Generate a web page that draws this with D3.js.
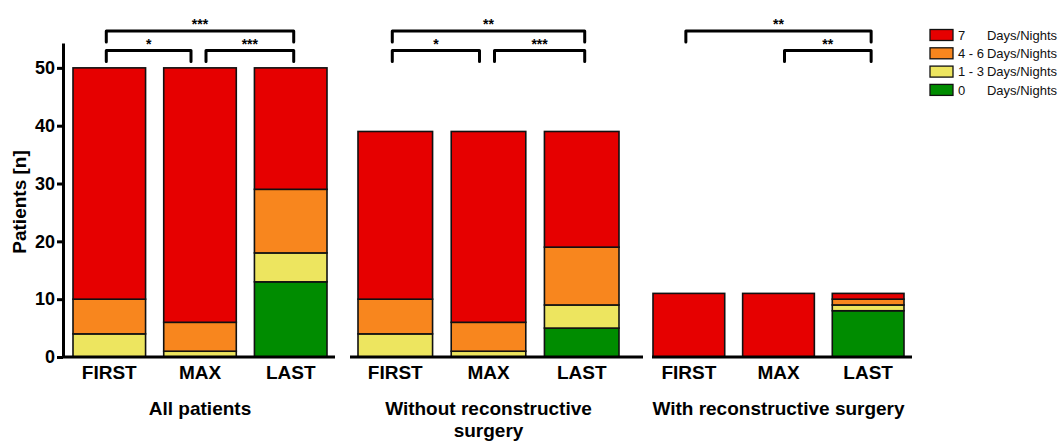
<!DOCTYPE html>
<html>
<head>
<meta charset="utf-8">
<script src="https://cdn.jsdelivr.net/npm/d3@7"></script>
<style>
  body { margin: 0; background: #fff; }
  svg { font-family: "Liberation Sans", Arial, sans-serif; }
</style>
</head>
<body>
<svg id="chart" width="1059" height="441"></svg>
<script>
// data
const groups = ['All patients', 'Without reconstructive surgery', 'With reconstructive surgery'];
const timepoints = ['FIRST', 'MAX', 'LAST'];
const yTicks = [0, 10, 20, 30, 40, 50];

// patients per group (rows) and timepoint (columns)
const days0 = [[0, 0, 13], [0, 0, 5], [0, 0, 8]];
const days1to3 = [[4, 1, 5], [4, 1, 4], [0, 0, 1]];
const days4to6 = [[6, 5, 11], [6, 5, 10], [0, 0, 1]];
const days7 = [[40, 44, 21], [29, 33, 20], [11, 11, 1]];

const seriesKeys = ['d0', 'd13', 'd46', 'd7'];
const seriesNumbers = ['0', '1 - 3', '4 - 6', '7'];
const seriesColors = ['#008c00', '#ede55f', '#f8861e', '#e60000'];

// significance brackets: group index, from, to, level, stars
const bracketGroup = [0, 0, 0, 1, 1, 1, 2, 2];
const bracketFrom = ['FIRST', 'FIRST', 'MAX', 'FIRST', 'FIRST', 'MAX', 'FIRST', 'MAX'];
const bracketTo = ['LAST', 'MAX', 'LAST', 'LAST', 'MAX', 'LAST', 'LAST', 'LAST'];
const bracketLevel = [1, 0, 0, 1, 0, 0, 1, 0];
const bracketStars = ['***', '*', '***', '**', '*', '***', '**', '**'];

const svg = d3.select('#chart');

const y = d3.scaleLinear().domain([0, 54.3]).range([357, 43]);

// horizontal extents of each panel
const axisExtent = [[63, 335], [350, 643], [652, 912]];
const barExtent = [[73, 327], [358, 619], [653, 904]];

const xScales = groups.map((g, i) => d3.scaleBand()
  .domain(timepoints)
  .range(barExtent[i])
  .paddingInner(0.2)
  .paddingOuter(0));

const stack = d3.stack().keys(seriesKeys);

groups.forEach((g, gi) => {
  const rows = timepoints.map((t, ti) => ({
    t: t,
    d0: days0[gi][ti],
    d13: days1to3[gi][ti],
    d46: days4to6[gi][ti],
    d7: days7[gi][ti]
  }));
  const layers = stack(rows);
  const x = xScales[gi];

  const panel = svg.append('g');

  panel.selectAll('g.layer')
    .data(layers)
    .join('g')
    .attr('class', 'layer')
    .attr('fill', (d, i) => seriesColors[i])
    .selectAll('rect')
    .data(d => d.filter(s => s[1] > s[0]))
    .join('rect')
    .attr('x', d => x(d.data.t))
    .attr('width', x.bandwidth())
    .attr('y', d => y(d[1]))
    .attr('height', d => y(d[0]) - y(d[1]))
    .attr('stroke', '#111')
    .attr('stroke-width', 1.6);

  // baseline of the panel
  panel.append('line')
    .attr('x1', axisExtent[gi][0])
    .attr('x2', axisExtent[gi][1])
    .attr('y1', y(0))
    .attr('y2', y(0))
    .attr('stroke', '#000')
    .attr('stroke-width', 3);

  panel.selectAll('text.cat')
    .data(timepoints)
    .join('text')
    .attr('class', 'cat')
    .attr('x', d => x(d) + x.bandwidth() / 2)
    .attr('y', 379)
    .attr('text-anchor', 'middle')
    .attr('font-size', 19)
    .attr('font-weight', 'bold')
    .text(d => d);

  // group title under the middle bar, wrapped like the original
  const cx = x('MAX') + x.bandwidth() / 2;
  const lines = gi === 1 ? ['Without reconstructive', 'surgery'] : [g];
  panel.append('text')
    .attr('x', cx)
    .attr('y', 415)
    .attr('text-anchor', 'middle')
    .attr('font-size', 19)
    .attr('font-weight', 'bold')
    .selectAll('tspan')
    .data(lines)
    .join('tspan')
    .attr('x', cx)
    .attr('dy', (d, i) => i === 0 ? 0 : 22)
    .text(d => d);
});

// brackets
const levelY = [50.5, 31];
bracketStars.forEach((s, i) => {
  const x = xScales[bracketGroup[i]];
  const c = t => x(t) + x.bandwidth() / 2;
  const lv = bracketLevel[i];
  let x1 = c(bracketFrom[i]) - 3;
  let x2 = c(bracketTo[i]) + 3;
  if (bracketFrom[i] === 'MAX') x1 = c('MAX') + 6;
  if (bracketTo[i] === 'MAX') x2 = c('MAX') - 9;
  const yy = levelY[lv];
  svg.append('path')
    .attr('d', `M${x1},${yy + 11}V${yy}H${x2}V${yy + 11}`)
    .attr('fill', 'none')
    .attr('stroke', '#000')
    .attr('stroke-width', 3)
    .attr('stroke-linecap', 'round')
    .attr('stroke-linejoin', 'round');
  svg.append('text')
    .attr('x', (x1 + x2) / 2)
    .attr('y', yy - 2)
    .attr('text-anchor', 'middle')
    .attr('font-size', 14)
    .attr('font-weight', 'bold')
    .text(s);
});

// y axis
const yAxis = svg.append('g')
  .attr('transform', 'translate(63,0)')
  .call(d3.axisLeft(y).tickValues(yTicks).tickSize(6).tickSizeOuter(0).tickPadding(2));
yAxis.select('.domain').attr('stroke-width', 3);
yAxis.selectAll('.tick line').attr('stroke-width', 3);
yAxis.selectAll('.tick text')
  .attr('font-size', 18)
  .attr('font-weight', 'bold')
  .attr('font-family', '"Liberation Sans", Arial, sans-serif')
  .attr('fill', '#000');

svg.append('text')
  .attr('transform', 'translate(26,202) rotate(-90)')
  .attr('text-anchor', 'middle')
  .attr('font-size', 19)
  .attr('font-weight', 'bold')
  .text('Patients [n]');

// legend, top row is 7 days
const legendOrder = [3, 2, 1, 0];
const legend = svg.append('g')
  .selectAll('g')
  .data(legendOrder)
  .join('g')
  .attr('transform', (d, i) => `translate(930,${35 + i * 18.3})`);

legend.append('rect')
  .attr('x', 0)
  .attr('y', -5.5)
  .attr('width', 23)
  .attr('height', 11)
  .attr('fill', d => seriesColors[d])
  .attr('stroke', '#111')
  .attr('stroke-width', 1.3);

legend.append('text')
  .attr('x', 28)
  .attr('dy', '0.36em')
  .attr('font-size', 13)
  .attr('fill', '#111')
  .text(d => seriesNumbers[d]);

legend.append('text')
  .attr('x', 127)
  .attr('dy', '0.36em')
  .attr('text-anchor', 'end')
  .attr('font-size', 13)
  .attr('fill', '#111')
  .text('Days/Nights');
</script>
</body>
</html>
